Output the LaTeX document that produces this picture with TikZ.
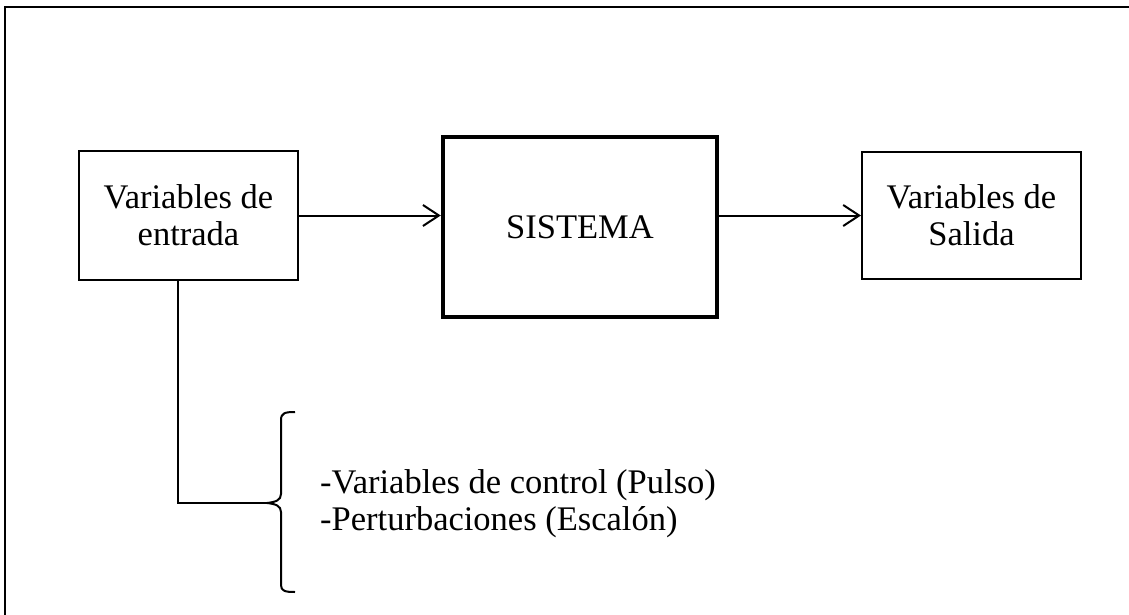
\documentclass[tikz,border=0pt]{standalone}
\usepackage{fontspec}
\setmainfont{Liberation Serif}
\usetikzlibrary{arrows.meta}
\begin{document}
\begin{tikzpicture}[x=1pt,y=-1pt,
  frameline/.style={line width=2pt},
  thinbox/.style={draw, line width=2pt, inner sep=0pt, align=center,
     font=\fontsize{34.5}{37}\selectfont},
  thickbox/.style={draw, line width=4.5pt, inner sep=0pt, align=center,
     font=\fontsize{34.5}{37}\selectfont},
  conn/.style={line width=2pt},
  arr/.style={line width=2pt, -{Straight Barb[length=16pt,width=21pt,line width=2pt]}},
  lbl/.style={inner sep=0pt, anchor=base west, font=\fontsize{34.5}{37}\selectfont}
]
\useasboundingbox (0,0) rectangle (1129,615);
% frame (top and left edges)
\draw[frameline] (5,615) -- (5,7) -- (1129,7);
% boxes
\node[thinbox, minimum width=219pt, minimum height=129pt] (in) at (188.5,215.5) {Variables de\\entrada};
\node[thickbox, minimum width=274pt, minimum height=180pt] (sys) at (580,227) {SISTEMA};
\node[thinbox, minimum width=219pt, minimum height=127pt] (out) at (971.5,215.5) {Variables de\\Salida};
% arrows
\draw[arr] (in.east) -- (in.east -| sys.west);
\draw[arr] (out.west -| sys.east) -- (out.west);
% branch to brace
\coordinate (j) at (178,503);
\coordinate (tip) at (267,503);
\draw[conn] (in.south -| j) -- (j) -- (tip);
% brace
\draw[conn, line join=round] (295,412) .. controls (285,412) and (281,413) .. (281,420)
  -- (281,494) .. controls (281,500) and (276,502) .. (tip)
  .. controls (276,504) and (281,506) .. (281,512)
  -- (281,585) .. controls (281,591) and (285,592) .. (295,592);
% labels
\node[lbl] (l1) at (320,493) {-Variables de control (Pulso)};
\node[lbl] (l2) at (320,530) {-Perturbaciones (Escalón)};
\end{tikzpicture}
\end{document}
